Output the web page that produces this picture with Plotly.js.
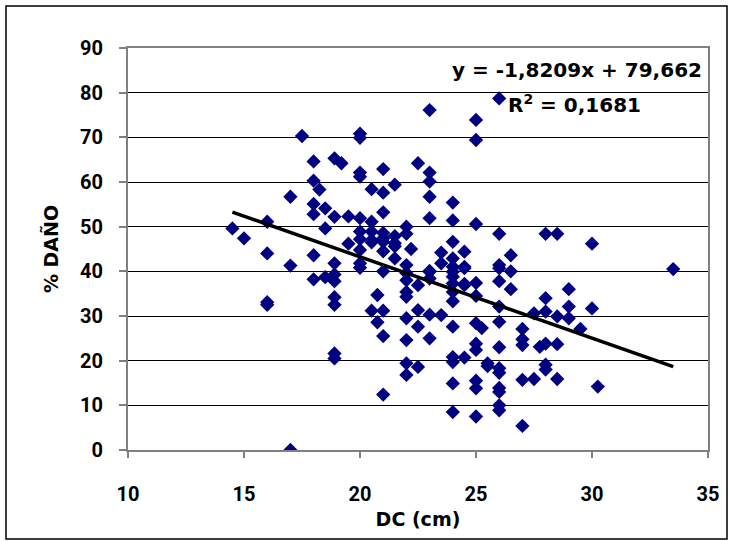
<!DOCTYPE html>
<html>
<head>
<meta charset="utf-8">
<script src="https://cdn.plot.ly/plotly-3.0.1.min.js"></script>
<style>
  html, body { margin: 0; padding: 0; background: #fff; }
  #chart { width: 734px; height: 541px; }
</style>
</head>
<body>
<div id="chart"></div>
<script>
// DC (cm) values
const dc = [
  14.5,
  15,
  16, 16, 16, 16,
  17, 17, 17,
  17.5,
  18, 18, 18, 18, 18, 18,
  18.25,
  18.5, 18.5, 18.5,
  18.9, 18.9, 18.9, 18.9, 18.9, 18.9, 18.9, 18.9, 18.9,
  19.2,
  19.5, 19.5,
  20, 20, 20, 20, 20, 20, 20, 20, 20, 20,
  20.5, 20.5, 20.5, 20.5, 20.5, 20.5,
  20.75, 20.75,
  21, 21, 21, 21, 21, 21, 21, 21, 21, 21, 21,
  21.5, 21.5, 21.5, 21.5, 21.5,
  22, 22, 22, 22, 22, 22, 22, 22, 22, 22, 22,
  22.2,
  22.5, 22.5, 22.5, 22.5, 22.5,
  23, 23, 23, 23, 23, 23, 23, 23, 23, 23,
  23.5, 23.5, 23.5,
  24, 24, 24, 24, 24, 24, 24, 24, 24, 24, 24, 24, 24, 24, 24,
  24.5, 24.5, 24.5, 24.5, 24.5, 24.5,
  25, 25, 25, 25, 25, 25, 25, 25, 25, 25, 25,
  25.25,
  25.5, 25.5,
  26, 26, 26, 26, 26, 26, 26, 26, 26, 26, 26, 26, 26, 26,
  26.5, 26.5, 26.5,
  27, 27, 27, 27, 27,
  27.5, 27.5,
  27.75,
  28, 28, 28, 28, 28, 28,
  28.5, 28.5, 28.5, 28.5,
  29, 29, 29,
  29.5,
  30, 30,
  30.25,
  33.5
];
// % DAÑO values
const dano = [
  49.6,
  47.4,
  51.1, 44.0, 33.1, 32.5,
  56.7, 41.3, 0,
  70.3,
  64.6, 60.3, 55.1, 52.8, 43.6, 38.2,
  58.3,
  54.1, 49.6, 38.7,
  65.3, 52.2, 41.8, 39.3, 37.8, 34.2, 32.5, 21.6, 20.5,
  64.2,
  52.3, 46.2,
  70.8, 69.9, 62.1, 61.2, 51.9, 48.9, 47.2, 44.8, 41.8, 40.8,
  58.4, 51.1, 48.9, 47.0, 46.5, 31.2,
  34.7, 28.6,
  62.9, 57.6, 53.2, 48.6, 47.4, 46.6, 44.5, 40.0, 31.2, 25.5, 12.4,
  59.4, 47.9, 46.3, 45.6, 42.9,
  50.0, 48.4, 41.4, 39.6, 38.0, 35.4, 34.3, 29.5, 24.6, 19.4, 16.8,
  45.0,
  64.2, 36.9, 31.3, 27.6, 18.6,
  76.1, 62.1, 60.1, 56.7, 51.9, 40.1, 39.9, 38.4, 30.3, 25.0,
  44.2, 41.8, 30.2,
  55.4, 51.4, 46.6, 42.9, 41.0, 39.9, 38.8, 37.3, 35.4, 33.3, 27.6, 20.8, 19.7, 14.9, 8.5,
  44.4, 41.0, 40.7, 37.2, 36.9, 20.7,
  73.9, 69.4, 50.6, 37.4, 34.5, 28.4, 23.8, 22.4, 15.5, 13.8, 7.5,
  27.3,
  19.4, 18.8,
  78.7, 48.4, 41.4, 40.7, 37.8, 32.1, 28.7, 23.0, 18.3, 17.3, 13.9, 13.0, 10.0, 8.9,
  43.6, 40.0, 36.0,
  27.1, 24.8, 23.5, 15.7, 5.4,
  30.6, 15.9,
  23.1,
  48.4, 34.0, 31.0, 23.8, 19.1, 18.0,
  48.4, 29.9, 23.7, 15.9,
  36.0, 32.1, 29.5,
  27.1,
  46.2, 31.7,
  14.2,
  40.5
];
// Trendline coefficients as printed on the chart
const slope = -1.8209;
const intercept = 79.662;
const eqText = "y = -1,8209x + 79,662";
const r2Text = "R<sup>2</sup> = 0,1681";
const xTicks = [10, 15, 20, 25, 30, 35];
const yTicks = [0, 10, 20, 30, 40, 50, 60, 70, 80, 90];

const xMin = Math.min(...dc), xMax = Math.max(...dc);
const trendX = [xMin, xMax];
const trendY = trendX.map(v => slope * v + intercept);

const TICKFONT = "Roboto, Liberation Sans, Arial, sans-serif";
const WIDEFONT = "DejaVu Sans, Verdana, sans-serif";

const traces = [
  {
    x: dc, y: dano, type: 'scatter', mode: 'markers',
    marker: { symbol: 'diamond', size: 11, color: '#000080', line: { width: 0 } },
    hoverinfo: 'skip', showlegend: false
  },
  {
    x: trendX, y: trendY, type: 'scatter', mode: 'lines',
    line: { color: '#000000', width: 3.5 },
    hoverinfo: 'skip', showlegend: false
  }
];

const PH = 402, PW = 580, T = 48, L = 128;

const layout = {
  width: 734, height: 541,
  margin: { l: L, r: 26, t: T, b: 91 },
  paper_bgcolor: '#ffffff', plot_bgcolor: '#ffffff',
  font: { family: TICKFONT, size: 20, color: '#000', weight: 700 },
  xaxis: {
    range: [10, 35], tickvals: xTicks, ticktext: xTicks.map(String),
    showgrid: false, zeroline: false,
    showline: true, linecolor: '#808080', linewidth: 2, mirror: true,
    ticks: 'outside', ticklen: 6, tickcolor: '#808080', tickwidth: 2,
    ticklabelstandoff: 19,
    tickfont: { family: TICKFONT, size: 20, weight: 700, color: '#000' },
    title: { text: 'DC (cm)', font: { family: WIDEFONT, size: 19, weight: 700, color: '#000' }, standoff: 8 }
  },
  yaxis: {
    range: [0, 90], tickvals: yTicks, ticktext: yTicks.map(String),
    showgrid: true, gridcolor: '#000000', gridwidth: 1,
    zeroline: false,
    showline: true, linecolor: '#808080', linewidth: 2, mirror: true,
    ticks: 'outside', ticklen: 7, tickcolor: '#808080', tickwidth: 2,
    ticklabelstandoff: 12,
    tickfont: { family: TICKFONT, size: 20, weight: 700, color: '#000' },
    title: { text: '% DAÑO', font: { family: WIDEFONT, size: 19, weight: 700, color: '#000' }, standoff: 16 }
  },
  annotations: [
    { xref: 'paper', yref: 'paper', x: (704 - L) / PW, y: 1 - (70 - T) / PH, xanchor: 'right', yanchor: 'middle',
      text: eqText, showarrow: false, font: { family: WIDEFONT, size: 20, weight: 700, color: '#000' } },
    { xref: 'paper', yref: 'paper', x: (506 - L) / PW, y: 1 - (104 - T) / PH, xanchor: 'left', yanchor: 'middle',
      text: r2Text, showarrow: false, font: { family: WIDEFONT, size: 20, weight: 700, color: '#000' } }
  ],
  shapes: [
    { type: 'rect', xref: 'paper', yref: 'paper',
      x0: (6 - L) / PW, x1: (727 - L) / PW,
      y0: (450 - 539) / PH, y1: (450 - 6) / PH,
      line: { color: '#000', width: 1.5 }, fillcolor: 'rgba(0,0,0,0)', layer: 'below' }
  ]
};

Plotly.newPlot('chart', traces, layout, { staticPlot: true, displayModeBar: false });
</script>
</body>
</html>
